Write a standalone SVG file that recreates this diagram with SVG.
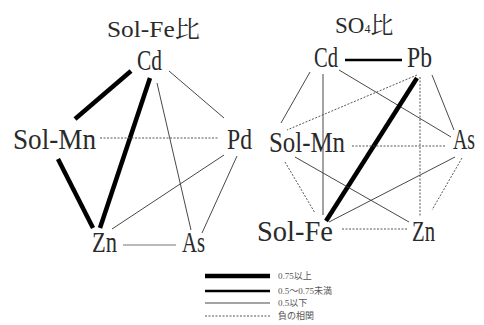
<svg xmlns="http://www.w3.org/2000/svg" width="484" height="325" viewBox="0 0 484 325">
  <style>
    .lbl { font-family: "Liberation Serif", "Noto Serif CJK JP", "Noto Sans CJK JP", serif; font-size: 29px; fill: #2a2a2a; }
    .ttl { font-family: "Liberation Serif", "Noto Serif CJK JP", "Noto Sans CJK JP", serif; font-size: 23px; fill: #2a2a2a; }
    .leg { font-family: "Liberation Serif", "Noto Sans CJK JP", serif; font-size: 9px; fill: #555; }
    .thick { stroke: #000; stroke-width: 4.5; fill: none; }
    .mid { stroke: #000; stroke-width: 2.6; fill: none; }
    .thin { stroke: #333; stroke-width: 0.9; fill: none; }
    .gray { stroke: #777; stroke-width: 1.1; fill: none; }
    .neg { stroke: #444; stroke-width: 0.9; stroke-dasharray: 2 1.5; fill: none; }
  </style>
  <rect width="484" height="325" fill="#fff"/>

  <!-- Sol-Fe ratio graph -->
  <g id="title-solfe"><text class="ttl" x="107" y="37" textLength="93" lengthAdjust="spacingAndGlyphs">Sol-Fe比</text></g>
  <g id="L-Cd"><text class="lbl" x="137" y="70" textLength="25" lengthAdjust="spacingAndGlyphs">Cd</text></g>
  <g id="L-SolMn"><text class="lbl" x="13" y="149" textLength="83" lengthAdjust="spacingAndGlyphs">Sol-Mn</text></g>
  <g id="L-Pd"><text class="lbl" x="227" y="149" textLength="25" lengthAdjust="spacingAndGlyphs">Pd</text></g>
  <g id="L-Zn"><text class="lbl" x="92" y="252" textLength="25" lengthAdjust="spacingAndGlyphs">Zn</text></g>
  <g id="L-As"><text class="lbl" x="182" y="252" textLength="23" lengthAdjust="spacingAndGlyphs">As</text></g>

  <g id="L-connectors">
    <line class="thick" x1="131" y1="71" x2="75" y2="119" stroke-width="4"/>
    <line class="thick" x1="150" y1="78" x2="100" y2="228"/>
    <line class="thick" x1="58" y1="159" x2="93" y2="228" stroke-width="4"/>
    <line class="thin" x1="157" y1="83" x2="191" y2="230"/>
    <line class="thin" x1="169" y1="71" x2="224" y2="118"/>
    <line class="neg" x1="100" y1="138" x2="218" y2="138"/>
    <line class="thin" x1="224" y1="155" x2="112" y2="229"/>
    <line class="thin" x1="237" y1="156" x2="202" y2="233"/>
    <line class="gray" x1="123" y1="245" x2="176" y2="245"/>
  </g>

  <!-- SO4 ratio graph -->
  <g id="title-so4"><text class="ttl" x="335" y="33">SO<tspan font-size="12">4</tspan>比</text></g>
  <g id="R-Cd"><text class="lbl" x="314" y="67" textLength="24" lengthAdjust="spacingAndGlyphs">Cd</text></g>
  <g id="R-Pb"><text class="lbl" x="407" y="67" textLength="25" lengthAdjust="spacingAndGlyphs">Pb</text></g>
  <g id="R-SolMn"><text class="lbl" x="269" y="152" textLength="76" lengthAdjust="spacingAndGlyphs">Sol-Mn</text></g>
  <g id="R-As"><text class="lbl" x="453" y="149" textLength="22" lengthAdjust="spacingAndGlyphs">As</text></g>
  <g id="R-SolFe"><text class="lbl" x="257" y="241" textLength="76" lengthAdjust="spacingAndGlyphs">Sol-Fe</text></g>
  <g id="R-Zn"><text class="lbl" x="412" y="241" textLength="23" lengthAdjust="spacingAndGlyphs">Zn</text></g>

  <g id="R-connectors">
    <line class="mid" x1="345" y1="60" x2="402" y2="60"/>
    <line class="thin" x1="310" y1="72" x2="281" y2="123"/>
    <line class="thin" x1="323" y1="74" x2="323" y2="215"/>
    <line class="thin" x1="339" y1="70" x2="451" y2="137"/>
    <line class="neg" x1="417" y1="75" x2="287" y2="130"/>
    <line class="thick" x1="417" y1="78" x2="326" y2="221" stroke-width="5"/>
    <line class="neg" x1="420" y1="77" x2="420" y2="216"/>
    <line class="thin" x1="432" y1="75" x2="454" y2="130"/>
    <line class="neg" x1="352" y1="146" x2="445" y2="146"/>
    <line class="neg" x1="285" y1="162" x2="315" y2="213"/>
    <line class="thin" x1="295" y1="157" x2="409" y2="222"/>
    <line class="thin" x1="455" y1="157" x2="329" y2="222"/>
    <line class="neg" x1="462" y1="158" x2="432" y2="210"/>
    <line class="neg" x1="342" y1="229" x2="407" y2="229"/>
  </g>

  <!-- legend -->
  <g id="legend">
    <line class="thick" x1="205" y1="276" x2="270" y2="276" stroke-width="5"/>
    <line class="mid" x1="205" y1="291" x2="270" y2="291"/>
    <line class="thin" x1="205" y1="303" x2="270" y2="303"/>
    <line class="neg" x1="205" y1="316" x2="270" y2="316"/>
    <text class="leg" x="278" y="279">0.75以上</text>
    <text class="leg" x="278" y="294">0.5～0.75未満</text>
    <text class="leg" x="278" y="306">0.5以下</text>
    <text class="leg" x="278" y="319">負の相関</text>
  </g>
</svg>
